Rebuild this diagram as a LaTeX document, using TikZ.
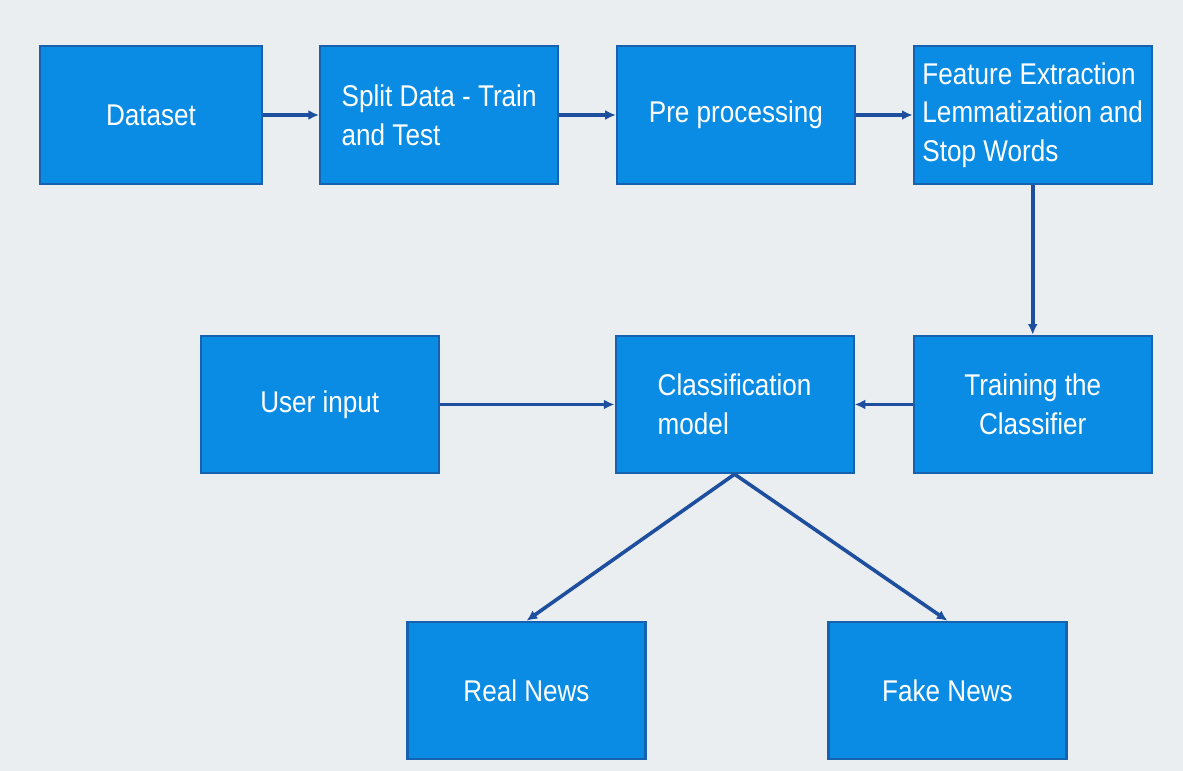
\documentclass[tikz,border=0pt]{standalone}
\usepackage{fontspec}
\setmainfont[FakeStretch=0.87]{Liberation Sans}
\usepackage{tikz}
\usetikzlibrary{arrows.meta,positioning}
\definecolor{BoxBlue}{HTML}{0A8CE4}
\definecolor{EdgeBlue}{HTML}{1662AE}
\definecolor{ArrowBlue}{HTML}{1E4F9E}
\definecolor{BgGray}{HTML}{EBEEF0}

\begin{document}
\begin{tikzpicture}[
  x=0.75pt,y=-0.75pt,
  node distance=112.5pt and 42.5pt,
  blk/.style={draw=EdgeBlue,fill=BoxBlue,line width=1.6pt,minimum width=178.5pt,minimum height=103pt,align=left,text=white,font=\fontsize{22.5}{29}\selectfont},
  arr/.style={-{Latex[length=2.8mm,width=2.6mm]},draw=ArrowBlue,line width=2.7pt}
]
\fill[BgGray] (0,0) rectangle (1183,771);
\useasboundingbox (0,0) rectangle (1183,771);
% top row
\node[blk,minimum width=166.5pt] (data) at (151,115) {Dataset};
\node[blk,right=42pt of data] (split) {Split Data - Train\\and Test};
\node[blk,right=of split] (prep) {Pre processing};
\node[blk,right=of prep] (feat) {Feature Extraction\\Lemmatization and\\Stop Words};
% middle row
\node[blk,below=of feat,align=center] (train) {Training the\\Classifier};
\node[blk,left=43.5pt of train] (model) {Classification\\model};
\node[blk,left=131pt of model] (user) {User input};
% results
\node[blk] (real) at (526.5,690.5) {Real News};
\node[blk] (fake) at (947.5,690.5) {Fake News};
\draw[arr] (data) -- (split);
\draw[arr] (split) -- (prep);
\draw[arr] (prep) -- (feat);
\draw[arr] (feat) -- (train);
\draw[arr] (train) -- (model);
\draw[arr] (user) -- (model);
\draw[arr] (model.south) -- (real.north);
\draw[arr] (model.south) -- (fake.north);
\end{tikzpicture}
\end{document}
